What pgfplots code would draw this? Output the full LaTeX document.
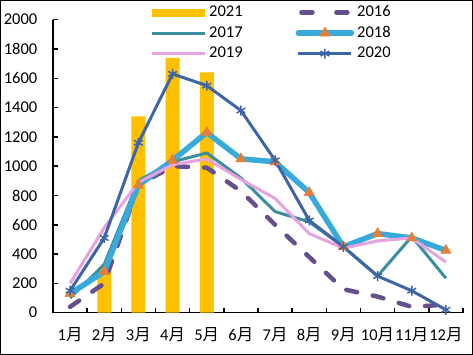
\documentclass[border=0pt]{standalone}
\usepackage{fontspec}
\setmainfont{Carlito}
\newfontfamily\cjk{Noto Sans CJK SC}
\usepackage{pgfplots}
\pgfplotsset{compat=1.18}
\definecolor{cbar}{HTML}{FFC000}
\definecolor{c16}{HTML}{654F8C}
\definecolor{c17}{HTML}{3A8E9E}
\definecolor{c18}{HTML}{38A9DB}
\definecolor{c18m}{HTML}{E47F39}
\definecolor{c19}{HTML}{E6A3E0}
\definecolor{c20}{HTML}{3E66A6}
\newcommand{\M}[1]{#1{\cjk 月}}
\begin{document}
\fontsize{16.5bp}{19bp}\selectfont
\begin{tikzpicture}
\useasboundingbox (0,0) rectangle (473bp,355bp);
\draw[black,line width=0.8bp] (0.4bp,0.4bp) rectangle (472.6bp,354.6bp);
\begin{axis}[
  at={(53bp,42.3bp)}, anchor=south west,
  scale only axis, width=410bp, height=293bp,
  xmin=0.5, xmax=12.5, ymin=0, ymax=2000,
  axis lines*=left,
  axis line style={black,line width=1.5bp},
  every outer x axis line/.append style={-}, every outer y axis line/.append style={-},
  xtick={1,...,12},
  xticklabels={\M{1},\M{2},\M{3},\M{4},\M{5},\M{6},\M{7},\M{8},\M{9},\M{10},\M{11},\M{12}},
  major x tick style={draw=none},
  minor xtick={1.5,2.5,...,12.5},
  minor tick length=5bp,
  minor x tick style={black,line width=1.5bp},
  ytick={0,200,...,2000},
  major tick length=5bp,
  major y tick style={black,line width=1.5bp},
  tick align=inside,
  /pgf/number format/assume math mode=true,
  /pgf/number format/1000 sep={},
  yticklabel style={font=\fontsize{16.5bp}{19bp}\selectfont, anchor=east, xshift=-10bp},
  xticklabel style={font=\fontsize{16.5bp}{19bp}\selectfont, anchor=center, yshift=-22bp},
  clip=false,
  legend columns=2,
  legend style={at={(0.2366,1.06)}, anchor=north west, draw=none, fill=none, inner sep=0pt,
    font=\fontsize{16.5bp}{20bp}\selectfont,
    /tikz/every even column/.append style={column sep=50bp},
    nodes={inner xsep=3bp, inner ysep=2.25bp, text height=12bp, text depth=4bp}},
  legend cell align=left,
]
\addplot[ybar, bar width=14bp, fill=cbar, draw=none,
  legend image code/.code={\fill[cbar] (0bp,-4bp) rectangle (53bp,4bp);}]
  coordinates {(2,290) (3,1340) (4,1740) (5,1640)};
\addlegendentry{2021}
\addplot[c16, line width=4.5bp, dash pattern=on 11bp off 16bp, line cap=round, line join=round,
  legend image code/.code={\draw[c16, line width=4.5bp, line cap=round] (3bp,0bp) -- (17bp,0bp) (38bp,0bp) -- (53bp,0bp);}]
  coordinates {(1,40) (2,200) (3,870) (4,1000) (5,990) (6,830) (7,600) (8,380) (9,160) (10,110) (11,40) (12,55)};
\addlegendentry{2016}
\addplot[c17, line width=3bp,
  legend image code/.code={\draw[c17, line width=3bp] (0bp,0bp) -- (53bp,0bp);}]
  coordinates {(1,100) (2,330) (3,900) (4,1030) (5,1090) (6,920) (7,690) (8,620) (9,450) (10,250) (11,520) (12,235)};
\addlegendentry{2017}
\addplot[c18, line width=5.5bp, line join=round, mark=triangle*, mark size=6bp,
  mark options={fill=c18m, draw=c18m, line width=0.5bp},
  legend image code/.code={\draw[c18, line width=5.5bp, line cap=round] (0bp,0bp) -- (53bp,0bp);
    \draw[c18m, fill=c18m, line width=0.5bp] plot[mark=triangle*, mark size=6bp] coordinates {(26.5bp,0bp)};}]
  coordinates {(1,130) (2,280) (3,870) (4,1040) (5,1230) (6,1050) (7,1030) (8,820) (9,450) (10,540) (11,510) (12,425)};
\addlegendentry{2018}
\addplot[c19, line width=3bp,
  legend image code/.code={\draw[c19, line width=3bp] (0bp,0bp) -- (53bp,0bp);}]
  coordinates {(1,200) (2,580) (3,890) (4,1010) (5,1050) (6,910) (7,780) (8,540) (9,440) (10,490) (11,510) (12,345)};
\addlegendentry{2019}
\addplot[c20, line width=3bp, mark=asterisk, mark size=5bp, mark options={line width=1.5bp},
  legend image code/.code={\draw[c20, line width=3bp] (0bp,0bp) -- (53bp,0bp);
    \draw[c20, line width=1.5bp] plot[mark=asterisk, mark size=5bp] coordinates {(26.5bp,0bp)};}]
  coordinates {(1,150) (2,510) (3,1160) (4,1630) (5,1550) (6,1380) (7,1040) (8,630) (9,450) (10,250) (11,150) (12,20)};
\addlegendentry{2020}
\end{axis}
\end{tikzpicture}
\end{document}
